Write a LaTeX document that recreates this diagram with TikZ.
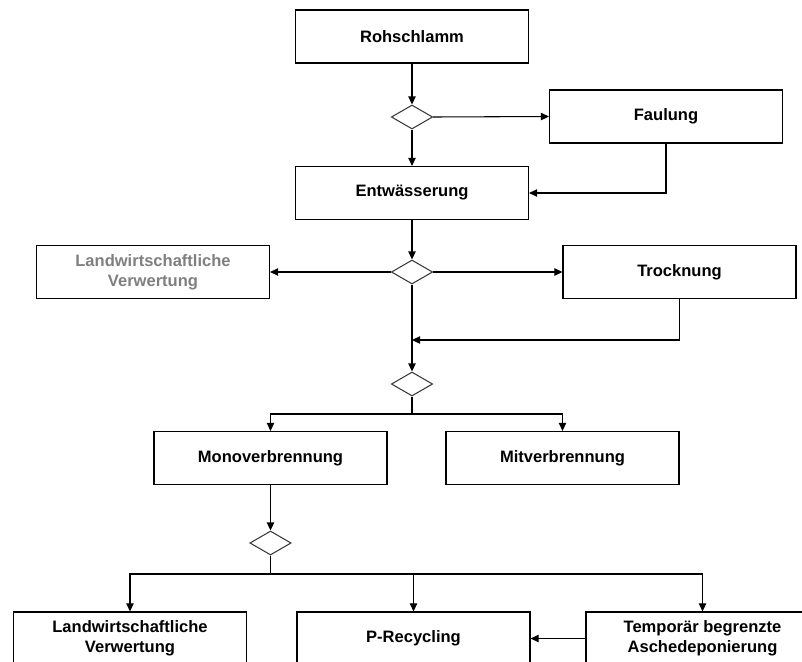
\documentclass[tikz,border=0pt]{standalone}
\usepackage{fontspec}
\setmainfont{Liberation Sans}
\usetikzlibrary{shapes.geometric,arrows.meta}
\definecolor{txtgray}{HTML}{7F7F7F}
\definecolor{dgray}{HTML}{3A3A3A}
\tikzset{
  box/.style={draw=black, line width=1.1pt, minimum width=174.5pt, minimum height=39.5pt, inner sep=0pt,
    align=center, font=\fontsize{12.4}{15}\selectfont\bfseries},
  dia/.style={draw=dgray, line width=0.8pt, diamond, minimum width=31pt, minimum height=18pt, inner sep=0pt, aspect=1.7},
  arr/.style={line width=0.8pt, -{Triangle[length=6pt,width=5.5pt]}},
  ln/.style={line width=0.8pt}
}
\begin{document}
\begin{tikzpicture}[x=0.75pt,y=-0.75pt]
\useasboundingbox (0,0) rectangle (802,661);
\clip (0,0) rectangle (802,661);
% nodes
\node[box] (roh) at (412,36.5) {Rohschlamm};
\node[dia] (d1) at (412,117) {};
\node[box] (faul) at (666,116.5) {Faulung};
\node[box] (entw) at (412,193) {Entwässerung};
\node[dia] (d2) at (412,272) {};
\node[box, text=txtgray] (land1) at (153,272) {Landwirtschaftliche\\Verwertung};
\node[box] (troc) at (679.5,272) {Trocknung};
\coordinate (m1) at (412,340);
\node[dia] (d3) at (412,384) {};
\coordinate (br1) at (412,414);
\node[box] (mono) at (270.5,458) {Monoverbrennung};
\node[box] (mit) at (562.5,458) {Mitverbrennung};
\node[dia] (d4) at (270.5,543) {};
\coordinate (br2) at (270.5,574);
\node[box] (land2) at (130,638.5) {Landwirtschaftliche\\Verwertung};
\node[box] (prec) at (413.5,638.5) {P-Recycling};
\node[box] (temp) at (702.5,638.5) {Temporär begrenzte\\Aschedeponierung};
% connectors
\draw[arr] (roh.south) -- (d1.north);
\draw[arr] (d1.south) -- (entw.north);
\draw[arr] (d1.east) -- (faul.west);
\draw[arr] (faul.south) |- (entw.east);
\draw[arr] (entw.south) -- (d2.north);
\draw[arr] (d2.west) -- (land1.east);
\draw[arr] (d2.east) -- (troc.west);
\draw[ln] (d2.south) -- (m1);
\draw[arr] (troc.south) |- (m1);
\draw[arr] (m1) -- (d3.north);
\draw[ln] (d3.south) -- (br1);
\draw[arr] (br1) -| (mono.north);
\draw[arr] (br1) -| (mit.north);
\draw[arr] (mono.south) -- (d4.north);
\draw[ln] (d4.south) -- (br2);
\draw[arr] (br2) -| (land2.north);
\draw[arr] (br2) -| (temp.north);
\draw[arr] (br2 -| prec.north) -- (prec.north);
\draw[arr] (temp.west) -- (prec.east);
\end{tikzpicture}
\end{document}
